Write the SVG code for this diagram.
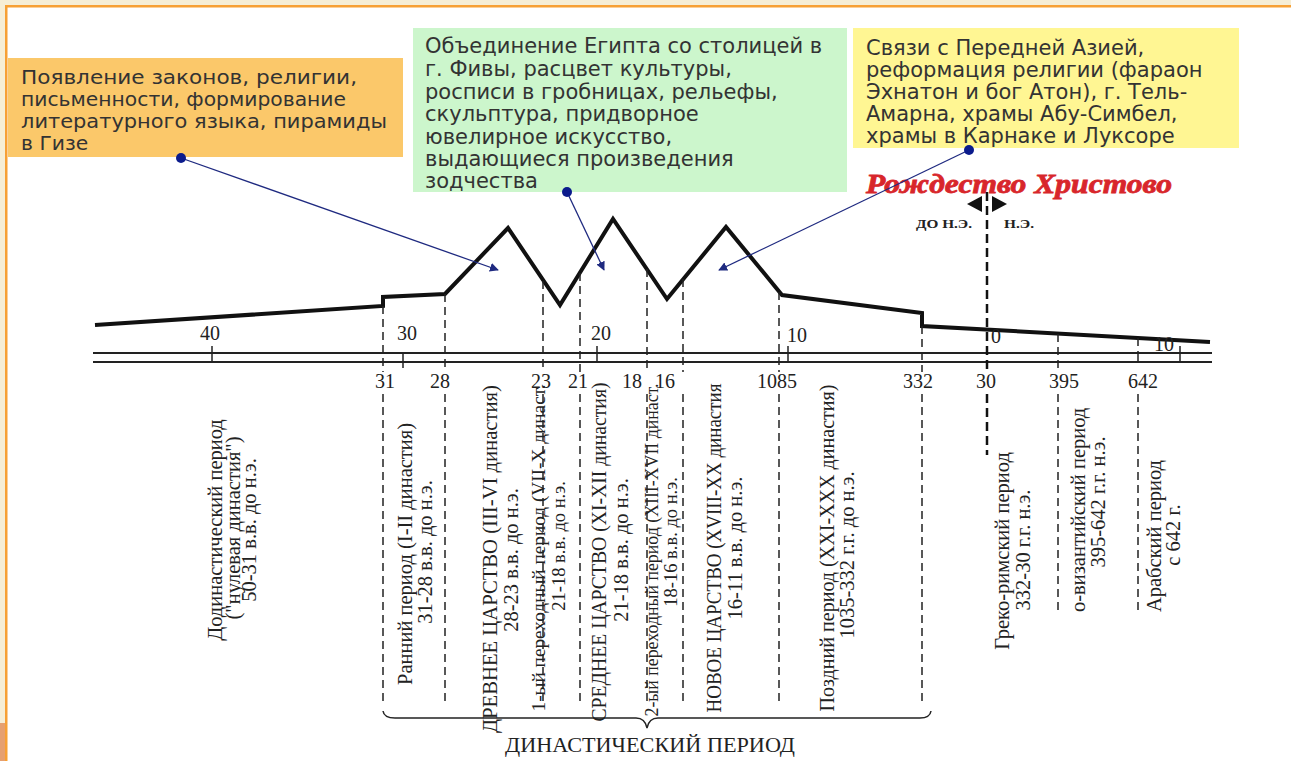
<svg xmlns="http://www.w3.org/2000/svg" width="1291" height="761" viewBox="0 0 1291 761">
<style>
.box{font-family:"DejaVu Sans",Verdana,sans-serif;font-size:21px;fill:#333}
.boxo{font-family:"DejaVu Sans",Verdana,sans-serif;font-size:20.3px;fill:#333}
.num{font-family:"Liberation Serif","Times New Roman",serif;font-size:20px;fill:#222}
.vt{font-family:"Liberation Serif","Times New Roman",serif;font-size:20.5px;fill:#222}
.vs{font-family:"Liberation Serif","Times New Roman",serif;font-size:18.5px;fill:#222}
.dash{stroke:#222;stroke-width:1.5;stroke-dasharray:8 5;fill:none}
.conn{stroke:#1f2a80;stroke-width:1.3;fill:none}
</style>
<defs>
<marker id="ah" viewBox="0 0 10 10" refX="9" refY="5" markerWidth="9" markerHeight="9" markerUnits="userSpaceOnUse" orient="auto">
<path d="M0,0 L10,5 L0,10 z" fill="#1f2a80"/>
</marker>
</defs>
<rect width="1291" height="761" fill="#fff"/>
<g id="frame">
<rect x="0" y="0" width="1291" height="6" fill="#f6eed6"/>
<rect x="0" y="0" width="6" height="761" fill="#f6eed6"/>
<rect x="0" y="723" width="6" height="38" fill="#e6a070"/>
<rect x="5" y="5" width="1286" height="2.5" fill="#f7a035"/>
<rect x="5" y="5" width="2.5" height="756" fill="#f7a035"/>
</g>
<g id="box-old">
<rect x="8" y="58" width="395" height="99" fill="#fbc86a"/>
<text class="boxo" x="21" y="84" textLength="336" lengthAdjust="spacingAndGlyphs">Появление законов, религии,</text>
<text class="boxo" x="21" y="106">письменности, формирование</text>
<text class="boxo" x="21" y="128" textLength="366" lengthAdjust="spacingAndGlyphs">литературного языка, пирамиды</text>
<text class="boxo" x="21" y="150">в Гизе</text>
</g>
<g id="box-middle">
<rect x="413" y="28" width="434" height="164" fill="#ccf6cc"/>
<text class="box" x="425" y="53">Объединение Египта со столицей в</text>
<text class="box" x="425" y="76">г. Фивы, расцвет культуры,</text>
<text class="box" x="425" y="99">росписи в гробницах, рельефы,</text>
<text class="box" x="425" y="121">скульптура, придворное</text>
<text class="box" x="425" y="144">ювелирное искусство,</text>
<text class="box" x="425" y="166">выдающиеся произведения</text>
<text class="box" x="425" y="188">зодчества</text>
</g>
<g id="box-new">
<rect x="853" y="28" width="386" height="120" fill="#fff693"/>
<text class="box" x="866" y="55">Связи с Передней Азией,</text>
<text class="box" x="866" y="77">реформация религии (фараон</text>
<text class="box" x="866" y="99">Эхнатон и бог Атон), г. Тель-</text>
<text class="box" x="866" y="121">Амарна, храмы Абу-Симбел,</text>
<text class="box" x="866" y="143">храмы в  Карнаке и Луксоре</text>
</g>
<g id="christ">
<text x="866" y="193" textLength="306" lengthAdjust="spacingAndGlyphs" font-family="Liberation Serif, serif" font-size="27" font-weight="bold" font-style="italic" fill="#d8262b" stroke="#d8262b" stroke-width="0.8">Рождество Христово</text>
<path d="M967,204 L982,196 L982,212 z" fill="#111"/>
<path d="M1007,204 L992,196 L992,212 z" fill="#111"/>
<text x="916" y="228" textLength="56" lengthAdjust="spacingAndGlyphs" font-family="Liberation Serif, serif" font-size="13" font-weight="bold" fill="#222">ДО Н.Э.</text>
<text x="1004" y="228" textLength="30" lengthAdjust="spacingAndGlyphs" font-family="Liberation Serif, serif" font-size="13" font-weight="bold" fill="#222">Н.Э.</text>
</g>
<g id="timeline">
<path d="M95,325 L383,306 L383,297 L445,294 L508,228 L560,305 L613,219 L667,299 L726,227 L782,295 L922,313 L922,326 L1210,342" stroke="#111" stroke-width="4" fill="none" stroke-linejoin="miter"/>
<line x1="93" y1="353" x2="1212" y2="353" stroke="#222" stroke-width="1.8"/>
<line x1="93" y1="362" x2="1212" y2="362" stroke="#222" stroke-width="1.8"/>
<g stroke="#222" stroke-width="1.5">
<line x1="212" y1="346" x2="212" y2="362"/>
<line x1="403" y1="353" x2="403" y2="368"/>
<line x1="597" y1="346" x2="597" y2="362"/>
<line x1="788" y1="346" x2="788" y2="362"/>
<line x1="1138" y1="353" x2="1138" y2="362"/>
<line x1="1180" y1="346" x2="1180" y2="362"/>
</g>
<text class="num" x="210" y="340" text-anchor="middle">40</text>
<text class="num" x="407" y="340" text-anchor="middle">30</text>
<text class="num" x="601" y="340" text-anchor="middle">20</text>
<text class="num" x="797" y="342" text-anchor="middle">10</text>
<text class="num" x="996" y="343" text-anchor="middle">0</text>
<text class="num" x="1164" y="351" text-anchor="middle">10</text>
<text class="num" x="385" y="388" text-anchor="middle">31</text>
<text class="num" x="440" y="388" text-anchor="middle">28</text>
<text class="num" x="541" y="388" text-anchor="middle">23</text>
<text class="num" x="578" y="388" text-anchor="middle">21</text>
<text class="num" x="632" y="388" text-anchor="middle">18</text>
<text class="num" x="665" y="388" text-anchor="middle">16</text>
<text class="num" x="777" y="388" text-anchor="middle">1085</text>
<text class="num" x="918" y="388" text-anchor="middle">332</text>
<text class="num" x="986" y="388" text-anchor="middle">30</text>
<text class="num" x="1064" y="388" text-anchor="middle">395</text>
<text class="num" x="1143" y="388" text-anchor="middle">642</text>
</g>
<g id="dashes">
<path class="dash" d="M383,306 V372 M383,394 V706"/>
<path class="dash" d="M445,294 V372 M445,394 V706"/>
<path class="dash" d="M543,281 V372 M543,394 V706"/>
<path class="dash" d="M580,273 V372 M580,394 V706"/>
<path class="dash" d="M647,269 V372 M647,394 V706"/>
<path class="dash" d="M683,279 V372 M683,394 V706"/>
<path class="dash" d="M779,292 V372 M779,394 V706"/>
<path class="dash" d="M922,326 V372 M922,394 V706"/>
<path class="dash" d="M1058,334 V372 M1058,394 V612"/>
<path class="dash" d="M1138,338 V353 M1138,394 V612"/>
<path d="M987,192 V372 M987,394 V455" stroke="#111" stroke-width="2.5" stroke-dasharray="9 5" fill="none"/>
</g>
<g id="periods">
<g transform="translate(222,530) rotate(-90)"><text class="vt" text-anchor="middle">Додинастический период</text></g>
<g transform="translate(240,528) rotate(-90)"><text class="vt" text-anchor="middle">("нулевая династия")</text></g>
<g transform="translate(256,530) rotate(-90)"><text class="vt" text-anchor="middle">50-31 в.в. до н.э.</text></g>
<g transform="translate(412,554) rotate(-90)"><text class="vt" text-anchor="middle">Ранний период (I-II династия)</text></g>
<g transform="translate(432,552) rotate(-90)"><text class="vt" text-anchor="middle">31-28 в.в. до н.э.</text></g>
<g transform="translate(497,559) rotate(-90)"><text class="vt" text-anchor="middle" textLength="348" lengthAdjust="spacingAndGlyphs">ДРЕВНЕЕ ЦАРСТВО (III-VI династия)</text></g>
<g transform="translate(518,560) rotate(-90)"><text class="vt" text-anchor="middle">28-23 в.в. до н.э.</text></g>
<g transform="translate(545,548) rotate(-90)"><text class="vs" text-anchor="middle" textLength="327" lengthAdjust="spacingAndGlyphs">1-ый переходный период (VII-X династ.</text></g>
<g transform="translate(565,546) rotate(-90)"><text class="vs" text-anchor="middle">21-18 в.в. до н.э.</text></g>
<g transform="translate(606,552) rotate(-90)"><text class="vt" text-anchor="middle" textLength="339" lengthAdjust="spacingAndGlyphs">СРЕДНЕЕ ЦАРСТВО (XI-XII династия)</text></g>
<g transform="translate(628,550) rotate(-90)"><text class="vt" text-anchor="middle">21-18 в.в. до н.э.</text></g>
<g transform="translate(658,550) rotate(-90)"><text class="vs" text-anchor="middle" textLength="333" lengthAdjust="spacingAndGlyphs">2-ый переходный период (XIII-XVII династ.</text></g>
<g transform="translate(677,542) rotate(-90)"><text class="vs" text-anchor="middle">18-16 в.в. до н.э.</text></g>
<g transform="translate(721,548) rotate(-90)"><text class="vt" text-anchor="middle" textLength="329" lengthAdjust="spacingAndGlyphs">НОВОЕ ЦАРСТВО (XVIII-XX династия</text></g>
<g transform="translate(742,548) rotate(-90)"><text class="vt" text-anchor="middle">16-11 в.в. до н.э.</text></g>
<g transform="translate(834,548) rotate(-90)"><text class="vt" text-anchor="middle" textLength="327" lengthAdjust="spacingAndGlyphs">Поздний период (XXI-XXX династия)</text></g>
<g transform="translate(854,555) rotate(-90)"><text class="vt" text-anchor="middle">1035-332 г.г. до н.э.</text></g>
<g transform="translate(1009,551) rotate(-90)"><text class="vt" text-anchor="middle">Греко-римский период</text></g>
<g transform="translate(1030,550) rotate(-90)"><text class="vt" text-anchor="middle">332-30 г.г. н.э.</text></g>
<g transform="translate(1085,612) rotate(-90)"><text class="vt">о-византийский период</text></g>
<g transform="translate(1105,502) rotate(-90)"><text class="vt" text-anchor="middle">395-642 г.г. н.э.</text></g>
<g transform="translate(1161,536) rotate(-90)"><text class="vt" text-anchor="middle">Арабский период</text></g>
<g transform="translate(1180,535) rotate(-90)"><text class="vt" text-anchor="middle">с 642 г.</text></g>
</g>
<g id="dynastic">
<path d="M383,711 Q384,718 395,718 L636,718 Q645,718 647,728 Q649,718 658,718 L920,718 Q930,718 931,711" stroke="#222" stroke-width="1.5" fill="none"/>
<text x="650" y="752" text-anchor="middle" textLength="290" lengthAdjust="spacingAndGlyphs" font-family="Liberation Serif, serif" font-size="20" fill="#222">ДИНАСТИЧЕСКИЙ ПЕРИОД</text>
</g>
<g id="connectors">
<line class="conn" x1="181" y1="158" x2="498" y2="270" marker-end="url(#ah)"/>
<line class="conn" x1="567" y1="192" x2="604" y2="270" marker-end="url(#ah)"/>
<line class="conn" x1="969" y1="150" x2="719" y2="270" marker-end="url(#ah)"/>
<circle cx="181" cy="158" r="5" fill="#0b1b8c"/>
<circle cx="567" cy="192" r="5" fill="#0b1b8c"/>
<circle cx="969" cy="150" r="5" fill="#0b1b8c"/>
</g>
</svg>
